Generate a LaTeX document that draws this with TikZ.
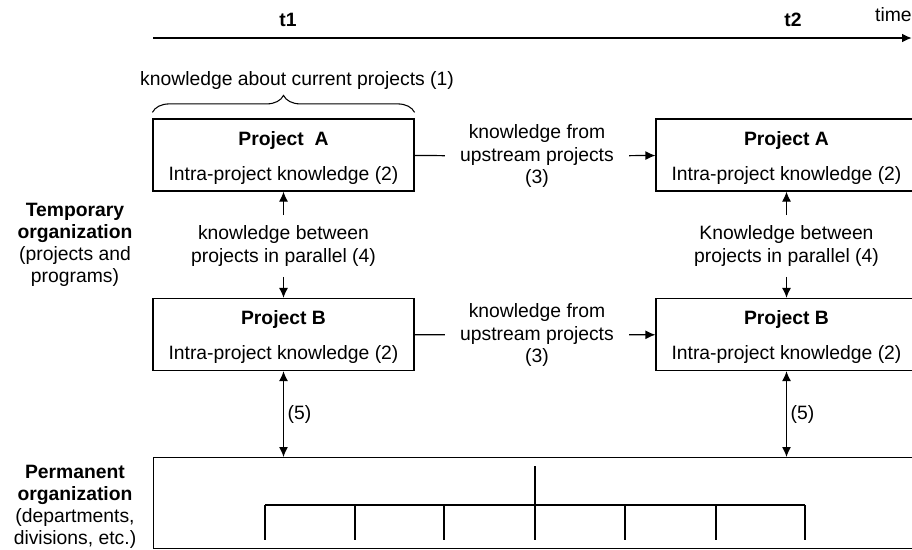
\documentclass[tikz,border=0pt]{standalone}
\usepackage{fontspec}
\setmainfont{Liberation Sans}
\usetikzlibrary{arrows.meta,decorations.pathreplacing}
\tikzset{
	projbox/.style={draw, line width=0.7pt, minimum width=5.22cm, minimum height=1.44cm, inner sep=0pt},
	lbl/.style={align=center, inner sep=0pt},
	ttl/.style={font=\fontsize{11}{12.5}\selectfont\bfseries, inner sep=0pt},
	midlbl/.style={align=center, font=\fontsize{11}{13}\selectfont, inner xsep=0.3cm, inner ysep=0pt},
	parlbl/.style={align=center, font=\fontsize{11}{13}\selectfont, inner xsep=0pt, inner ysep=0.2cm},
	arr/.style={-{Latex[length=2mm,width=1.8mm]}, line width=0.7pt},
	dblarr/.style={{Latex[length=2mm,width=1.8mm]}-{Latex[length=2mm,width=1.8mm]}, line width=0.7pt},
}

\begin{document}
\begin{tikzpicture}[x=0.02cm, y=-0.02cm, font=\fontsize{11}{12.5}\selectfont]
	%%%%% START %%%%%
	\useasboundingbox (0,0) rectangle (912,549);
	
	% time axis
	\coordinate (tstart) at (153,38);
	\coordinate (tend) at (912,38);
	\draw[line width=1.5pt, -{Latex[length=2mm,width=1.8mm]}] (tstart) -- (tend);
	\node[ttl] (t1) at (288,20) {t1};
	\node[ttl] (t2) at (793,20) {t2};
	\node[lbl, anchor=east] (time) at (912,15) {time};
	
	% projects at t1
	\node[projbox] (a1) at (283.5,155) {};
	\node[ttl] (a1t) at (283.5,140) {Project\ \ A};
	\node[lbl] (a1i) at (283.5,175) {Intra-project knowledge (2)};
	\node[projbox] (b1) at (283.5,334.5) {};
	\node[ttl] (b1t) at (283.5,319) {Project B};
	\node[lbl] (b1i) at (283.5,354) {Intra-project knowledge (2)};
	
	% projects at t2
	\node[projbox] (a2) at (786.5,155) {};
	\node[ttl] (a2t) at (786.5,140) {Project A};
	\node[lbl] (a2i) at (786.5,175) {Intra-project knowledge (2)};
	\node[projbox] (b2) at (786.5,334.5) {};
	\node[ttl] (b2t) at (786.5,319) {Project B};
	\node[lbl] (b2i) at (786.5,354) {Intra-project knowledge (2)};
	
	% brace (1)
	\path (a1.north west) ++(0,-6) coordinate (brl);
	\path (a1.north east) ++(0,-6) coordinate (brr);
	\draw[line width=0.6pt, decorate, decoration={brace, amplitude=0.34cm}] (brl) -- (brr);
	\node[lbl] (k1) at (297,80) {knowledge about current projects (1)};
	
	% upstream knowledge (3)
	\node[midlbl] (k3a) at (537,156) {knowledge from\\upstream projects\\(3)};
	\draw[line width=0.7pt] (a1) -- (k3a);
	\draw[arr] (k3a) -- (a2);
	\node[midlbl] (k3b) at (537,335) {knowledge from\\upstream projects\\(3)};
	\draw[line width=0.7pt] (b1) -- (k3b);
	\draw[arr] (k3b) -- (b2);
	
	% parallel knowledge (4)
	\node[parlbl] (k4a) at (283.5,246) {knowledge between\\projects in parallel (4)};
	\draw[arr] (k4a.north) -- (a1.south);
	\draw[arr] (k4a.south) -- (b1.north);
	\node[parlbl] (k4b) at (786.5,246) {Knowledge between\\projects in parallel (4)};
	\draw[arr] (k4b.north) -- (a2.south);
	\draw[arr] (k4b.south) -- (b2.north);
	
	% permanent organization
	\node[draw, line width=0.7pt, minimum width=16.94cm, minimum height=1.82cm, anchor=north west, inner sep=0pt] (perm) at (153,457) {};
	\draw[dblarr] (b1.south) -- (b1.south |- perm.north) node[midway, right=2pt, inner sep=0pt] (p5a) {(5)};
	\draw[dblarr] (b2.south) -- (b2.south |- perm.north) node[midway, right=2pt, inner sep=0pt] (p5b) {(5)};
	
	% org chart
	\draw[line width=0.6pt] (535,466) -- (535,505);
	\draw[line width=0.6pt] (265,505) -- (805,505);
	\foreach \x in {265,355,444,535,625,716,805}
		\draw[line width=0.6pt] (\x,505) -- (\x,540);
	
	% side labels
	\node[lbl] (temp) at (75,245) {\textbf{Temporary}\\\textbf{organization}\\(projects and\\programs)};
	\node[lbl] (perml) at (75,507) {\textbf{Permanent}\\\textbf{organization}\\(departments,\\divisions, etc.)};
	%%%%% END %%%%%
\end{tikzpicture}
\end{document}
